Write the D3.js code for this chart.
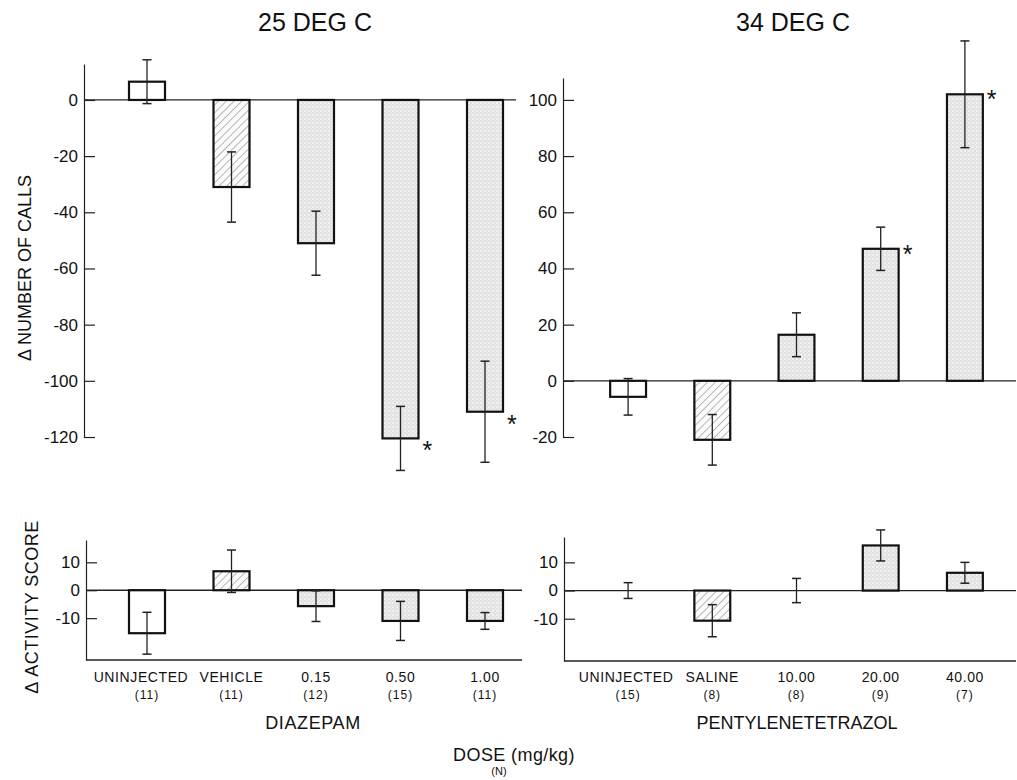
<!DOCTYPE html>
<html>
<head>
<meta charset="utf-8">
<style>
  body { margin: 0; background: #ffffff; }
  svg text { font-family: "Liberation Sans", Arial, Helvetica, sans-serif; fill: #111; }
</style>
<title>Diazepam / Pentylenetetrazol</title>
</head>
<body>
<div id="chart"></div>
<script src="https://cdn.jsdelivr.net/npm/d3@7/dist/d3.min.js"></script>
<script>
// categories (dose labels) and group sizes
var diazCats = ["UNINJECTED", "VEHICLE", "0.15", "0.50", "1.00"];
var diazN = ["(11)", "(11)", "(12)", "(15)", "(11)"];
var pentCats = ["UNINJECTED", "SALINE", "10.00", "20.00", "40.00"];
var pentN = ["(15)", "(8)", "(8)", "(9)", "(7)"];
var barFills = ["open", "hatch", "dots", "dots", "dots"];

// change in number of calls (mean, +/- error)
var diazCalls = [6.5, -31, -51, -120.5, -111];
var diazCallsErr = [7.8, 12.5, 11.4, 11.4, 18];
var diazSig = [false, false, false, true, true];
var pentCalls = [-5.7, -21, 16.4, 47, 102];
var pentCallsErr = [6.5, 9, 7.8, 7.7, 19];
var pentSig = [false, false, false, true, true];

// change in activity score
var diazActivity = [-15.4, 6.8, -5.7, -11, -11];
var diazActivityErr = [7.5, 7.6, 5.5, 7, 3];
var pentActivity = [0, -10.7, 0, 16, 6.3];
var pentActivityErr = [2.8, 5.7, 4.3, 5.5, 3.7];

var width = 1017, height = 780;

var svg = d3.select("#chart").append("svg")
  .attr("width", width)
  .attr("height", height);

// fill patterns: diagonal hatch and stipple
var defs = svg.append("defs");
var hatch = defs.append("pattern")
  .attr("id", "hatch")
  .attr("patternUnits", "userSpaceOnUse")
  .attr("width", 5.5).attr("height", 5.5)
  .attr("patternTransform", "rotate(45)");
hatch.append("rect").attr("width", 5.5).attr("height", 5.5).attr("fill", "#fbfbfb");
hatch.append("line")
  .attr("x1", 0).attr("y1", 0).attr("x2", 0).attr("y2", 5.5)
  .attr("stroke", "#666").attr("stroke-width", 0.9);

var dots = defs.append("pattern")
  .attr("id", "dots")
  .attr("patternUnits", "userSpaceOnUse")
  .attr("width", 4).attr("height", 4);
dots.append("rect").attr("width", 4).attr("height", 4).attr("fill", "#f1f1f1");
[[0.5, 0.5], [2.5, 2.5], [2.5, 0.5]].forEach(function(p, i) {
  dots.append("rect")
    .attr("x", p[0]).attr("y", p[1]).attr("width", 1).attr("height", 1)
    .attr("fill", i == 2 ? "#d0d0d0" : "#b4b4b4");
});

function fillFor(t) {
  if (t == "hatch") return "url(#hatch)";
  if (t == "dots") return "url(#dots)";
  return "#ffffff";
}

// x scales shared by upper and lower panels
var xLeft = d3.scaleBand().domain(diazCats).range([104.75, 527.25])
  .paddingInner(0.574).paddingOuter(0.287);
var xRight = d3.scaleBand().domain(pentCats).range([586, 1007])
  .paddingInner(0.574).paddingOuter(0.287);

function drawPanel(o) {
  var g = svg.append("g");
  var data = o.cats.map(function(c, i) {
    return { cat: c, value: o.values[i], err: o.errs[i], fill: barFills[i], sig: o.sig ? o.sig[i] : false };
  });

  // y axis (ticks point inward)
  var axis = g.append("g")
    .attr("transform", "translate(" + o.axisX + ",0)")
    .call(d3.axisLeft(o.y).tickValues(o.ticks).tickSize(-11).tickSizeOuter(0).tickPadding(6)
      .tickFormat(function(d) { return String(d); }));
  axis.select(".domain").attr("stroke", "#222").attr("stroke-width", 1.2);
  axis.selectAll(".tick line").attr("stroke", "#222").attr("stroke-width", 1.2);
  axis.selectAll(".tick text")
    .style("font-family", "'Liberation Sans', Arial, sans-serif")
    .style("font-size", "17px")
    .attr("fill", "#111");

  // zero line
  g.append("line")
    .attr("x1", o.axisX).attr("x2", o.lineEnd)
    .attr("y1", o.y(0)).attr("y2", o.y(0))
    .attr("stroke", "#222").attr("stroke-width", 1.3);

  if (o.baseline) {
    g.append("line")
      .attr("x1", o.axisX).attr("x2", o.lineEnd)
      .attr("y1", o.y(o.y.domain()[0])).attr("y2", o.y(o.y.domain()[0]))
      .attr("stroke", "#222").attr("stroke-width", 1.3);
  }

  // bars
  g.selectAll("rect.bar")
    .data(data.filter(function(d) { return d.value !== 0; }))
    .enter().append("rect")
    .attr("class", "bar")
    .attr("x", function(d) { return o.x(d.cat); })
    .attr("width", o.x.bandwidth())
    .attr("y", function(d) { return o.y(Math.max(0, d.value)); })
    .attr("height", function(d) { return Math.abs(o.y(d.value) - o.y(0)); })
    .attr("fill", function(d) { return fillFor(d.fill); })
    .attr("stroke", "#111")
    .attr("stroke-width", 2.2);

  // error bars
  var eb = g.selectAll("g.err")
    .data(data)
    .enter().append("g")
    .attr("class", "err")
    .attr("transform", function(d) { return "translate(" + (o.x(d.cat) + o.x.bandwidth() / 2) + ",0)"; });
  eb.append("line")
    .attr("x1", 0).attr("x2", 0)
    .attr("y1", function(d) { return o.y(d.value + d.err); })
    .attr("y2", function(d) { return o.y(d.value - d.err); })
    .attr("stroke", "#222").attr("stroke-width", 1.3);
  [1, -1].forEach(function(s) {
    eb.append("line")
      .attr("x1", -4.5).attr("x2", 4.5)
      .attr("y1", function(d) { return o.y(d.value + s * d.err); })
      .attr("y2", function(d) { return o.y(d.value + s * d.err); })
      .attr("stroke", "#222").attr("stroke-width", 1.5);
  });

  // significance asterisks
  g.selectAll("text.sig")
    .data(data.filter(function(d) { return d.sig; }))
    .enter().append("text")
    .attr("class", "sig")
    .attr("x", function(d) { return o.x(d.cat) + o.x.bandwidth() + 4; })
    .attr("y", function(d) { return o.y(d.value) + (d.value < 0 ? 21 : 14); })
    .style("font-size", "25px")
    .text("*");

  // category labels
  if (o.labels) {
    g.selectAll("text.cat")
      .data(data)
      .enter().append("text")
      .attr("class", "cat")
      .attr("x", function(d) { return o.x(d.cat) + o.x.bandwidth() / 2; })
      .attr("dx", function(d, i) { return i == 0 ? o.firstShift : 0; })
      .attr("y", 682)
      .attr("text-anchor", "middle")
      .style("font-size", "14px")
      .style("letter-spacing", "0.6px")
      .text(function(d) { return d.cat; });
    g.selectAll("text.n")
      .data(o.nLabels)
      .enter().append("text")
      .attr("class", "n")
      .attr("x", function(d, i) { return o.x(o.cats[i]) + o.x.bandwidth() / 2; })
      .attr("y", 699)
      .attr("text-anchor", "middle")
      .style("font-size", "12px")
      .style("letter-spacing", "1px")
      .text(function(d) { return d; });
  }
}

// upper panels: change in number of calls
drawPanel({
  cats: diazCats, values: diazCalls, errs: diazCallsErr, sig: diazSig,
  x: xLeft, y: d3.scaleLinear().domain([-120, 12.8]).range([437, 64]),
  ticks: d3.range(-120, 1, 20), axisX: 84, lineEnd: 516
});
drawPanel({
  cats: pentCats, values: pentCalls, errs: pentCallsErr, sig: pentSig,
  x: xRight, y: d3.scaleLinear().domain([-20, 107.8]).range([437, 78]),
  ticks: d3.range(-20, 101, 20), axisX: 563, lineEnd: 1016
});

// lower panels: change in activity score
drawPanel({
  cats: diazCats, values: diazActivity, errs: diazActivityErr,
  x: xLeft, y: d3.scaleLinear().domain([-25, 18]).range([660, 540]),
  ticks: [-10, 0, 10], axisX: 86, lineEnd: 522, baseline: true,
  labels: true, nLabels: diazN, firstShift: -6
});
drawPanel({
  cats: pentCats, values: pentActivity, errs: pentActivityErr,
  x: xRight, y: d3.scaleLinear().domain([-25, 19]).range([661, 537]),
  ticks: [-10, 0, 10], axisX: 564, lineEnd: 1016, baseline: true,
  labels: true, nLabels: pentN, firstShift: -2
});

// titles and axis titles
svg.append("text").attr("x", 315).attr("y", 31).attr("text-anchor", "middle")
  .style("font-size", "25px").text("25 DEG C");
svg.append("text").attr("x", 793).attr("y", 31).attr("text-anchor", "middle")
  .style("font-size", "25px").text("34 DEG C");

svg.append("text")
  .attr("transform", "translate(31,268) rotate(-90)")
  .attr("text-anchor", "middle")
  .style("font-size", "18px")
  .text("\u0394 NUMBER OF CALLS");
svg.append("text")
  .attr("transform", "translate(38,607) rotate(-90)")
  .attr("text-anchor", "middle")
  .style("font-size", "18px")
  .style("letter-spacing", "0.5px")
  .text("\u0394 ACTIVITY SCORE");

svg.append("text").attr("x", 313).attr("y", 729).attr("text-anchor", "middle")
  .style("font-size", "18px").style("letter-spacing", "0.6px").text("DIAZEPAM");
svg.append("text").attr("x", 797).attr("y", 729).attr("text-anchor", "middle")
  .style("font-size", "18px").text("PENTYLENETETRAZOL");

svg.append("text").attr("x", 514).attr("y", 761).attr("text-anchor", "middle")
  .style("font-size", "18px").style("letter-spacing", "0.4px").text("DOSE (mg/kg)");
svg.append("text").attr("x", 499).attr("y", 775).attr("text-anchor", "middle")
  .style("font-size", "11px").text("(N)");
</script>
</body>
</html>
